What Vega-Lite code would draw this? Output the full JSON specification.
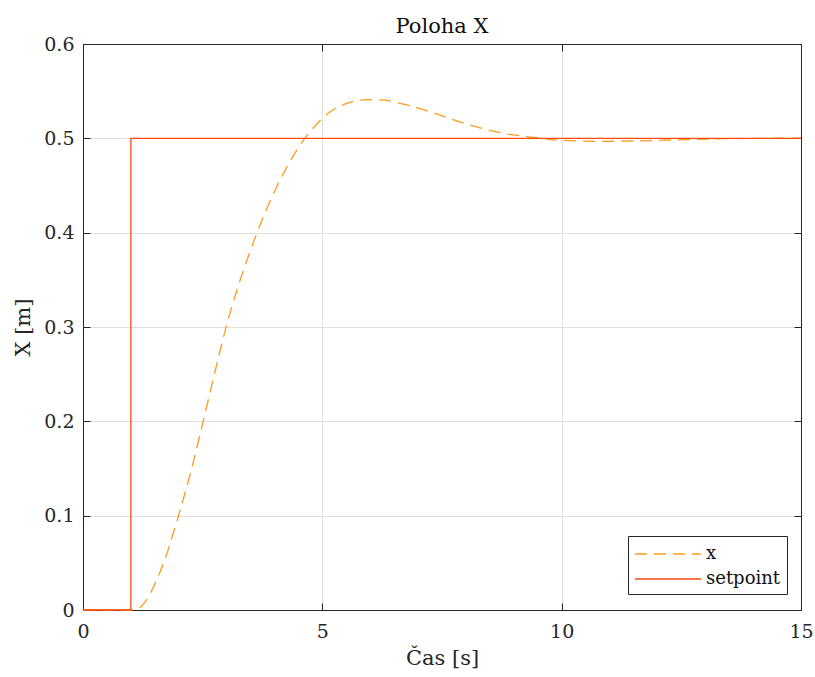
{
  "$schema": "https://vega.github.io/schema/vega-lite/v6.json",
  "width": 718,
  "height": 566,
  "autosize": {"type": "none"},
  "padding": {"left": 83, "top": 44, "right": 14, "bottom": 67},
  "background": "white",
  "config": {
    "font": "DejaVu Serif",
    "view": {"stroke": null},
    "axis": {"labelFont": "DejaVu Serif", "titleFont": "DejaVu Serif", "labelColor": "#262626", "titleColor": "#262626", "domainColor": "#262626", "tickColor": "#262626", "titleFontWeight": "normal"},
    "legend": {"labelFont": "DejaVu Serif"}
  },
  "title": {"text": "Poloha X", "fontSize": 21, "fontWeight": "normal", "font": "DejaVu Serif", "color": "#111111", "anchor": "middle", "offset": -2},
  "datasets": {
    "sim": [
      {"s": "x", "t": 0, "v": 0, "i": 0},
      {"s": "x", "t": 1, "v": 0, "i": 1},
      {"s": "x", "t": 1.1, "v": 0.0006, "i": 2},
      {"s": "x", "t": 1.2, "v": 0.003, "i": 3},
      {"s": "x", "t": 1.3, "v": 0.009, "i": 4},
      {"s": "x", "t": 1.42, "v": 0.019, "i": 5},
      {"s": "x", "t": 1.54, "v": 0.032, "i": 6},
      {"s": "x", "t": 1.66, "v": 0.047, "i": 7},
      {"s": "x", "t": 1.78, "v": 0.064, "i": 8},
      {"s": "x", "t": 1.9, "v": 0.084, "i": 9},
      {"s": "x", "t": 2.03, "v": 0.106, "i": 10},
      {"s": "x", "t": 2.27, "v": 0.15, "i": 11},
      {"s": "x", "t": 2.51, "v": 0.2, "i": 12},
      {"s": "x", "t": 2.76, "v": 0.253, "i": 13},
      {"s": "x", "t": 3.0, "v": 0.302, "i": 14},
      {"s": "x", "t": 3.24, "v": 0.343, "i": 15},
      {"s": "x", "t": 3.49, "v": 0.38, "i": 16},
      {"s": "x", "t": 3.77, "v": 0.417, "i": 17},
      {"s": "x", "t": 4.12, "v": 0.456, "i": 18},
      {"s": "x", "t": 4.46, "v": 0.487, "i": 19},
      {"s": "x", "t": 4.81, "v": 0.511, "i": 20},
      {"s": "x", "t": 5.16, "v": 0.528, "i": 21},
      {"s": "x", "t": 5.51, "v": 0.537, "i": 22},
      {"s": "x", "t": 5.93, "v": 0.541, "i": 23},
      {"s": "x", "t": 6.3, "v": 0.5405, "i": 24},
      {"s": "x", "t": 6.55, "v": 0.538, "i": 25},
      {"s": "x", "t": 7.0, "v": 0.532, "i": 26},
      {"s": "x", "t": 7.32, "v": 0.527, "i": 27},
      {"s": "x", "t": 8.02, "v": 0.515, "i": 28},
      {"s": "x", "t": 8.71, "v": 0.506, "i": 29},
      {"s": "x", "t": 9.41, "v": 0.501, "i": 30},
      {"s": "x", "t": 9.96, "v": 0.498, "i": 31},
      {"s": "x", "t": 10.8, "v": 0.4968, "i": 32},
      {"s": "x", "t": 11.5, "v": 0.4972, "i": 33},
      {"s": "x", "t": 12.54, "v": 0.4986, "i": 34},
      {"s": "x", "t": 13.58, "v": 0.4997, "i": 35},
      {"s": "x", "t": 15, "v": 0.5002, "i": 36},
      {"s": "setpoint", "t": 0, "v": 0, "i": 0},
      {"s": "setpoint", "t": 1, "v": 0, "i": 1},
      {"s": "setpoint", "t": 1, "v": 0.5, "i": 2},
      {"s": "setpoint", "t": 15, "v": 0.5, "i": 3}
    ]
  },
  "data": {"name": "sim"},
  "resolve": {"axis": {"x": "independent", "y": "independent"}},
  "layer": [
    {
      "transform": [{"filter": "datum.s === 'x'"}],
      "mark": {"type": "line", "strokeWidth": 1.3, "interpolate": "monotone"},
      "encoding": {
        "x": {"field": "t", "type": "quantitative", "scale": {"domain": [0, 15], "nice": false, "zero": false},
          "axis": {"orient": "bottom", "values": [0, 5, 10, 15], "title": "Čas [s]", "titleFontSize": 21, "titlePadding": 6, "labelFontSize": 19, "labelPadding": 19, "tickSize": -7, "grid": true, "gridColor": "#DFDFDF", "gridWidth": 1, "domainWidth": 1, "labelFlush": false}},
        "y": {"field": "v", "type": "quantitative", "scale": {"domain": [0, 0.6], "nice": false, "zero": false},
          "axis": {"orient": "left", "values": [0, 0.1, 0.2, 0.3, 0.4, 0.5, 0.6], "format": "~g", "title": "X [m]", "titleFontSize": 21, "titlePadding": 10, "labelFontSize": 19, "labelPadding": 16, "tickSize": -7, "grid": true, "gridColor": "#DFDFDF", "gridWidth": 1, "domainWidth": 1, "labelFlush": false}},
        "color": {"field": "s", "type": "nominal", "scale": {"domain": ["x", "setpoint"], "range": ["#FF9A1F", "#FF4A0A"]},
          "legend": {"title": null, "orient": "none", "legendX": 545, "legendY": 492, "symbolType": "M-3,0H3", "symbolSize": 484, "symbolStrokeWidth": 1.3, "symbolOffset": 22, "labelOffset": 26, "labelFontSize": 18, "labelColor": "#111111", "rowPadding": 4, "padding": 6, "strokeColor": "#262626", "fillColor": "white", "symbolFillColor": "transparent"}},
        "strokeDash": {"field": "s", "type": "nominal", "scale": {"domain": ["x", "setpoint"], "range": [[12, 7], [1, 0]]}, "legend": null},
        "order": {"field": "i", "type": "quantitative"}
      }
    },
    {
      "transform": [{"filter": "datum.s === 'setpoint'"}],
      "mark": {"type": "line", "strokeWidth": 1.3, "interpolate": "linear"},
      "encoding": {
        "x": {"field": "t", "type": "quantitative", "axis": null},
        "y": {"field": "v", "type": "quantitative", "axis": null},
        "color": {"field": "s", "type": "nominal"},
        "strokeDash": {"field": "s", "type": "nominal"},
        "order": {"field": "i", "type": "quantitative"}
      }
    },
    {
      "transform": [{"filter": "datum.s === 'setpoint'"}],
      "mark": {"type": "line", "opacity": 0},
      "encoding": {
        "x": {"field": "t", "type": "quantitative",
          "axis": {"orient": "top", "values": [0, 5, 10, 15], "labels": false, "title": null, "tickSize": -7, "grid": false, "domainWidth": 1}},
        "y": {"field": "v", "type": "quantitative",
          "axis": {"orient": "right", "values": [0, 0.1, 0.2, 0.3, 0.4, 0.5, 0.6], "labels": false, "title": null, "tickSize": -7, "grid": false, "domainWidth": 1}},
        "order": {"field": "i", "type": "quantitative"}
      }
    }
  ]
}
